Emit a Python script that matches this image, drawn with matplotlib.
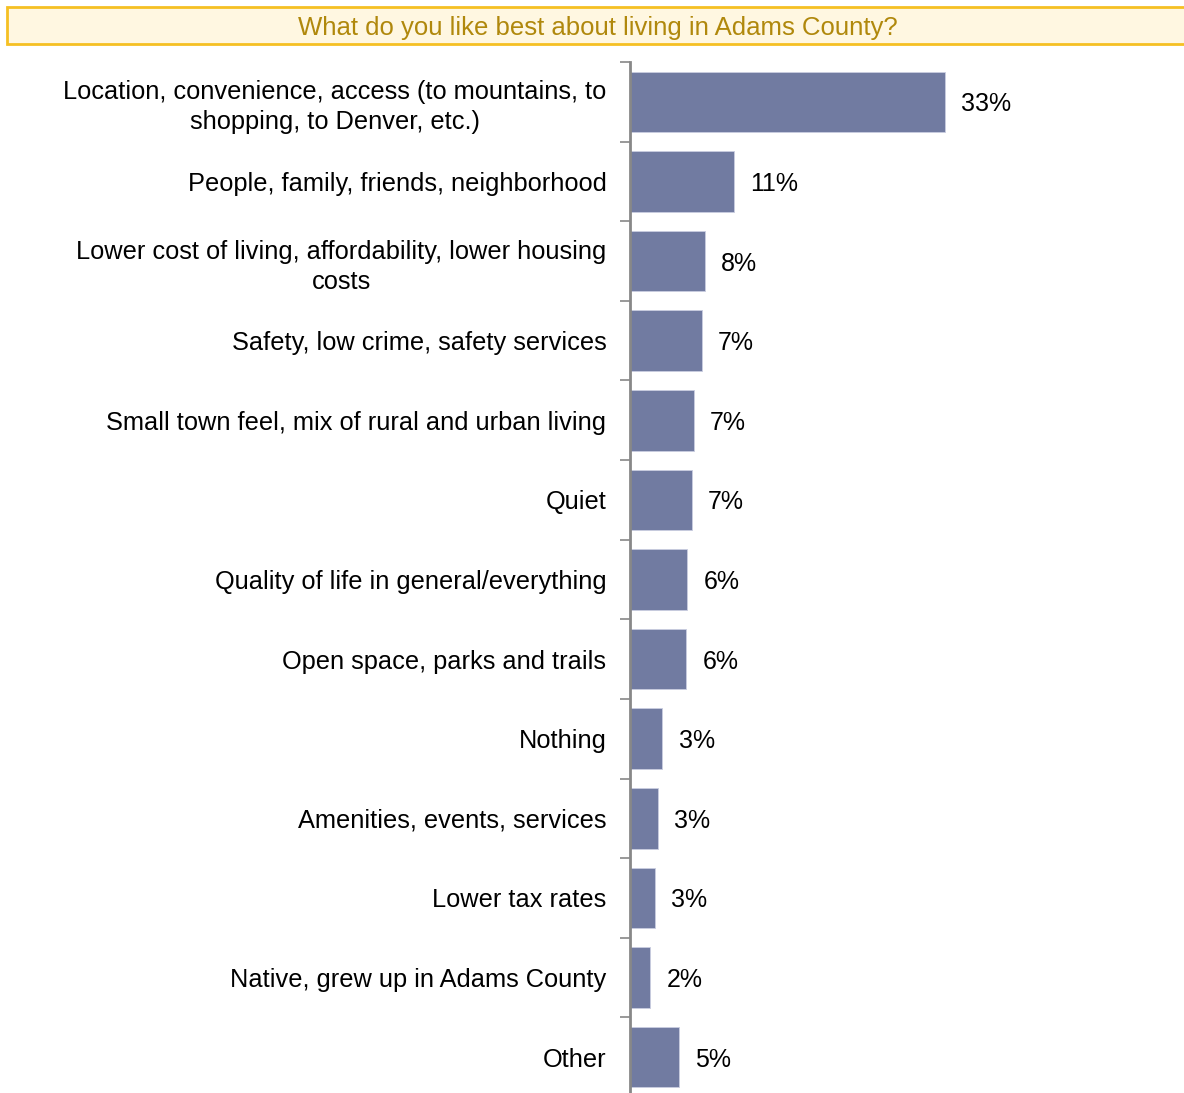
import matplotlib
matplotlib.use("Agg")
import matplotlib.pyplot as plt
import numpy as np
from matplotlib.patches import Rectangle

plt.rcParams['font.family'] = ['Liberation Sans', 'DejaVu Sans']

title = "What do you like best about living in Adams County?"
categories = [
    "Location, convenience, access (to mountains, to\nshopping, to Denver, etc.)",
    "People, family, friends, neighborhood",
    "Lower cost of living, affordability, lower housing\ncosts",
    "Safety, low crime, safety services",
    "Small town feel, mix of rural and urban living",
    "Quiet",
    "Quality of life in general/everything",
    "Open space, parks and trails",
    "Nothing",
    "Amenities, events, services",
    "Lower tax rates",
    "Native, grew up in Adams County",
    "Other",
]
values = [33.0, 10.9, 7.85, 7.5, 6.7, 6.5, 6.0, 5.9, 3.4, 2.9, 2.6, 2.1, 5.1]
labels = ["33%", "11%", "8%", "7%", "7%", "7%", "6%", "6%", "3%", "3%", "3%", "2%", "5%"]

bar_color = "#717ba1"

fig = plt.figure(figsize=(11.84, 10.93), dpi=100)

# title box
fig.patches.append(Rectangle((7/1184, 1-44/1093), 1.0, 37/1093, transform=fig.transFigure,
                             facecolor="#fff7e1", edgecolor="#f5c023", linewidth=2, zorder=0))
fig.text(598/1184, 1-25/1093, title, ha="center", va="center_baseline", fontsize=18.5, color="#b0880c")

ax = fig.add_axes([630/1184, -4/1093, 477/1184, 1035/1093])
n = len(categories)
y = np.arange(n)
ax.barh(y, values, height=0.76, color=bar_color, edgecolor="#c9cde0", linewidth=0.6)
for yi, v, lab in zip(y, values, labels):
    ax.text(v + 1.7, yi, lab, va="center_baseline", ha="left", fontsize=18, color="black")

ax.set_ylim(n - 0.5, -0.5)
ax.set_xlim(0, 50)
ax.set_yticks(y)
ticklabels = ax.set_yticklabels(categories, fontsize=18.3, ha="right")
for t in ticklabels:
    t.set_multialignment("center")
    t.set_linespacing(1.32)
ax.tick_params(axis="y", which="major", length=0, pad=17)
ax.set_yticks(np.arange(n + 1) - 0.5, minor=True)
ax.tick_params(axis="y", which="minor", length=7, width=1.2, color="#888888", direction="out")
ax.set_xticks([])
for s in ["top", "right", "bottom"]:
    ax.spines[s].set_visible(False)
ax.spines["left"].set_color("#888888")
ax.spines["left"].set_linewidth(2)

fig.savefig("out.png", dpi=100)
